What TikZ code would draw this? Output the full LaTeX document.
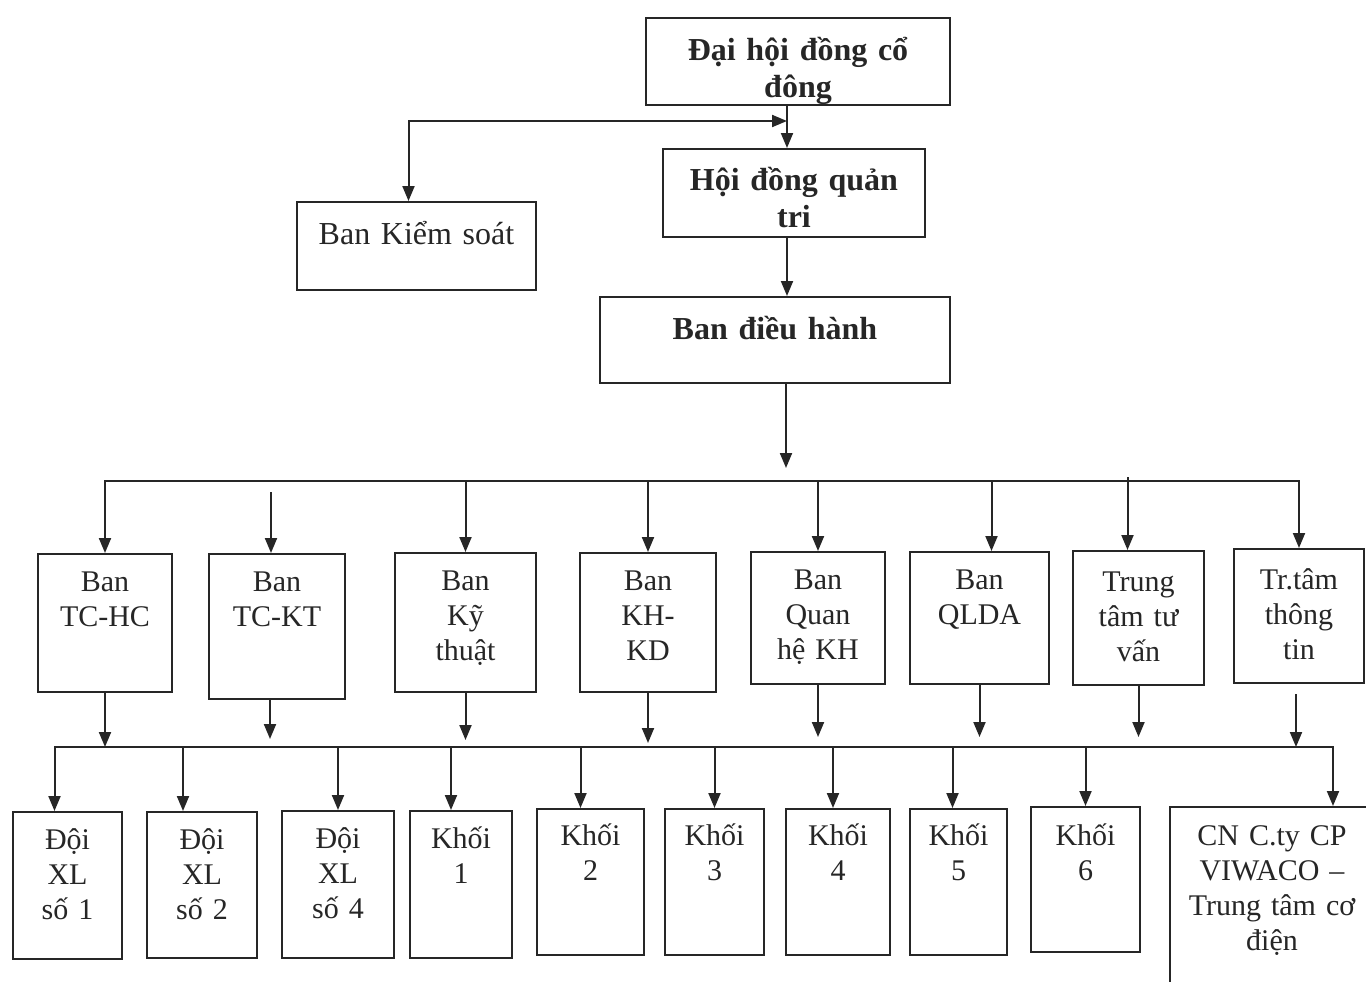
\documentclass[tikz,border=0pt]{standalone}
\usepackage{fontspec}
\setmainfont{Liberation Serif}
\usetikzlibrary{arrows.meta,calc}
\definecolor{InkBlack}{HTML}{262626}

\begin{document}
\begin{tikzpicture}[
  x=1pt,y=-1pt,
  >={Triangle[length=15pt,width=12pt]},
  every node/.style={font=\fontsize{30}{35}\selectfont,text=InkBlack,align=center},
  unit/.style={draw=InkBlack,line width=2pt,anchor=north,inner sep=0pt,text height=37pt},
  head/.style={unit,font=\bfseries\fontsize{32}{37}\selectfont,text height=42pt},
  arr/.style={->,line width=2pt,draw=InkBlack}
]
  \path[use as bounding box,fill=white] (0,0) rectangle (1366,982);
  \clip (0,0) rectangle (1366,982);

  % top levels
  \node[head,text width=304pt,text height=43pt,text depth=44pt] (dhdcd) at (798,17) {Đại hội đồng cổ\\đông};
  \node[head,text width=262pt,text height=41pt,text depth=47pt] (hdqt) at (794,148) {Hội đồng quản\\tri};
  \node[unit,font=\fontsize{32}{37}\selectfont,text width=239pt,text height=42pt,text depth=46pt] (bks) at (416.5,201) {Ban Kiểm soát};
  \node[head,text width=350pt,text depth=44pt] (bdh) at (775,296) {Ban điều hành};

  % departments
  \node[unit,text width=134pt,text depth=101pt] (tchc) at (105,553) {Ban\\TC-HC};
  \node[unit,text width=136pt,text depth=108pt] (tckt) at (277,553) {Ban\\TC-KT};
  \node[unit,text width=141pt,text depth=102pt] (kyth) at (465.5,552) {Ban\\Kỹ\\thuật};
  \node[unit,text width=136pt,text depth=102pt] (khkd) at (648,552) {Ban\\KH-\\KD};
  \node[unit,text width=134pt,text depth=95pt] (qhkh) at (818,551) {Ban\\Quan\\hệ KH};
  \node[unit,text width=139pt,text depth=95pt] (qlda) at (979.5,551) {Ban\\QLDA};
  \node[unit,text width=131pt,text height=40pt,text depth=94pt] (tttv) at (1138.5,550) {Trung\\tâm tư\\vấn};
  \node[unit,text width=130pt,text height=40pt,text depth=94pt] (tttt) at (1299,548) {Tr.tâm\\thông\\tin};

  % production units
  \node[unit,text width=109pt,text depth=110pt] (doi1) at (67.5,811) {Đội\\XL\\số 1};
  \node[unit,text width=110pt,text depth=109pt] (doi2) at (202,811) {Đội\\XL\\số 2};
  \node[unit,text width=112pt,text depth=110pt] (doi4) at (338,810) {Đội\\XL\\số 4};
  \node[unit,text width=102pt,text depth=110pt] (khoi1) at (461,810) {Khối\\1};
  \node[unit,text width=107pt,text height=36pt,text depth=110pt] (khoi2) at (590.5,808) {Khối\\2};
  \node[unit,text width=99pt,text height=36pt,text depth=110pt] (khoi3) at (714.5,808) {Khối\\3};
  \node[unit,text width=104pt,text height=36pt,text depth=110pt] (khoi4) at (838,808) {Khối\\4};
  \node[unit,text width=97pt,text height=36pt,text depth=110pt] (khoi5) at (958.5,808) {Khối\\5};
  \node[unit,text width=109pt,text height=38pt,text depth=107pt] (khoi6) at (1085.5,806) {Khối\\6};
  \node[unit,text width=204pt,text height=38pt,text depth=200pt] (cn) at (1272,806) {CN C.ty CP\\VIWACO --\\Trung tâm cơ\\điện};

  \coordinate (spine) at (787,121);
  \coordinate (bus) at (786,481);
  \coordinate (lbus) at (700,747);

  \draw[arr] (dhdcd.south -| spine) -- (hdqt.north -| spine);
  \draw[arr,<->] ($(bks.north)+(-8,0)$) |- (spine);
  \draw[arr] (hdqt.south -| spine) -- (bdh.north -| spine);
  \draw[arr] (bdh.south -| bus) -- ($(bus)+(0,-13)$);

  \draw[arr] (bus) -| (tchc.north);
  \draw[arr] (bus) -| (tttt.north);
  \draw[arr] ($(tckt.north |- bus)+(-6,11)$) -- ($(tckt.north)+(-6,0)$);
  \draw[arr] (kyth.north |- bus) -- (kyth.north);
  \draw[arr] (khkd.north |- bus) -- (khkd.north);
  \draw[arr] (qhkh.north |- bus) -- (qhkh.north);
  \draw[arr] ($(qlda.north |- bus)+(12,0)$) -- ($(qlda.north)+(12,0)$);
  \draw[arr] ($(tttv.north |- bus)+(-11,-4)$) -- ($(tttv.north)+(-11,0)$);

  \draw[arr] (tchc.south) -- (tchc.south |- lbus);
  \draw[arr] ($(tckt.south)+(-7,0)$) -- ($(tckt.south |- lbus)+(-7,-8)$);
  \draw[arr] (kyth.south) -- ($(kyth.south |- lbus)+(0,-7)$);
  \draw[arr] (khkd.south) -- ($(khkd.south |- lbus)+(0,-4)$);
  \draw[arr] (qhkh.south) -- ($(qhkh.south |- lbus)+(0,-10)$);
  \draw[arr] (qlda.south) -- ($(qlda.south |- lbus)+(0,-10)$);
  \draw[arr] (tttv.south) -- ($(tttv.south |- lbus)+(0,-10)$);
  \draw[arr] ($(tttt.south)+(-3,10)$) -- ($(tttt.south |- lbus)+(-3,0)$);

  \draw[arr] (lbus) -| ($(doi1.north)+(-13,0)$);
  \draw[arr] (lbus) -| ($(cn.north)+(61,0)$);
  \draw[arr] ($(doi2.north |- lbus)+(-19,0)$) -- ($(doi2.north)+(-19,0)$);
  \draw[arr] (doi4.north |- lbus) -- (doi4.north);
  \draw[arr] ($(khoi1.north |- lbus)+(-10,0)$) -- ($(khoi1.north)+(-10,0)$);
  \draw[arr] ($(khoi2.north |- lbus)+(-10,0)$) -- ($(khoi2.north)+(-10,0)$);
  \draw[arr] (khoi3.north |- lbus) -- (khoi3.north);
  \draw[arr] ($(khoi4.north |- lbus)+(-5,0)$) -- ($(khoi4.north)+(-5,0)$);
  \draw[arr] ($(khoi5.north |- lbus)+(-6,0)$) -- ($(khoi5.north)+(-6,0)$);
  \draw[arr] (khoi6.north |- lbus) -- (khoi6.north);
\end{tikzpicture}
\end{document}
